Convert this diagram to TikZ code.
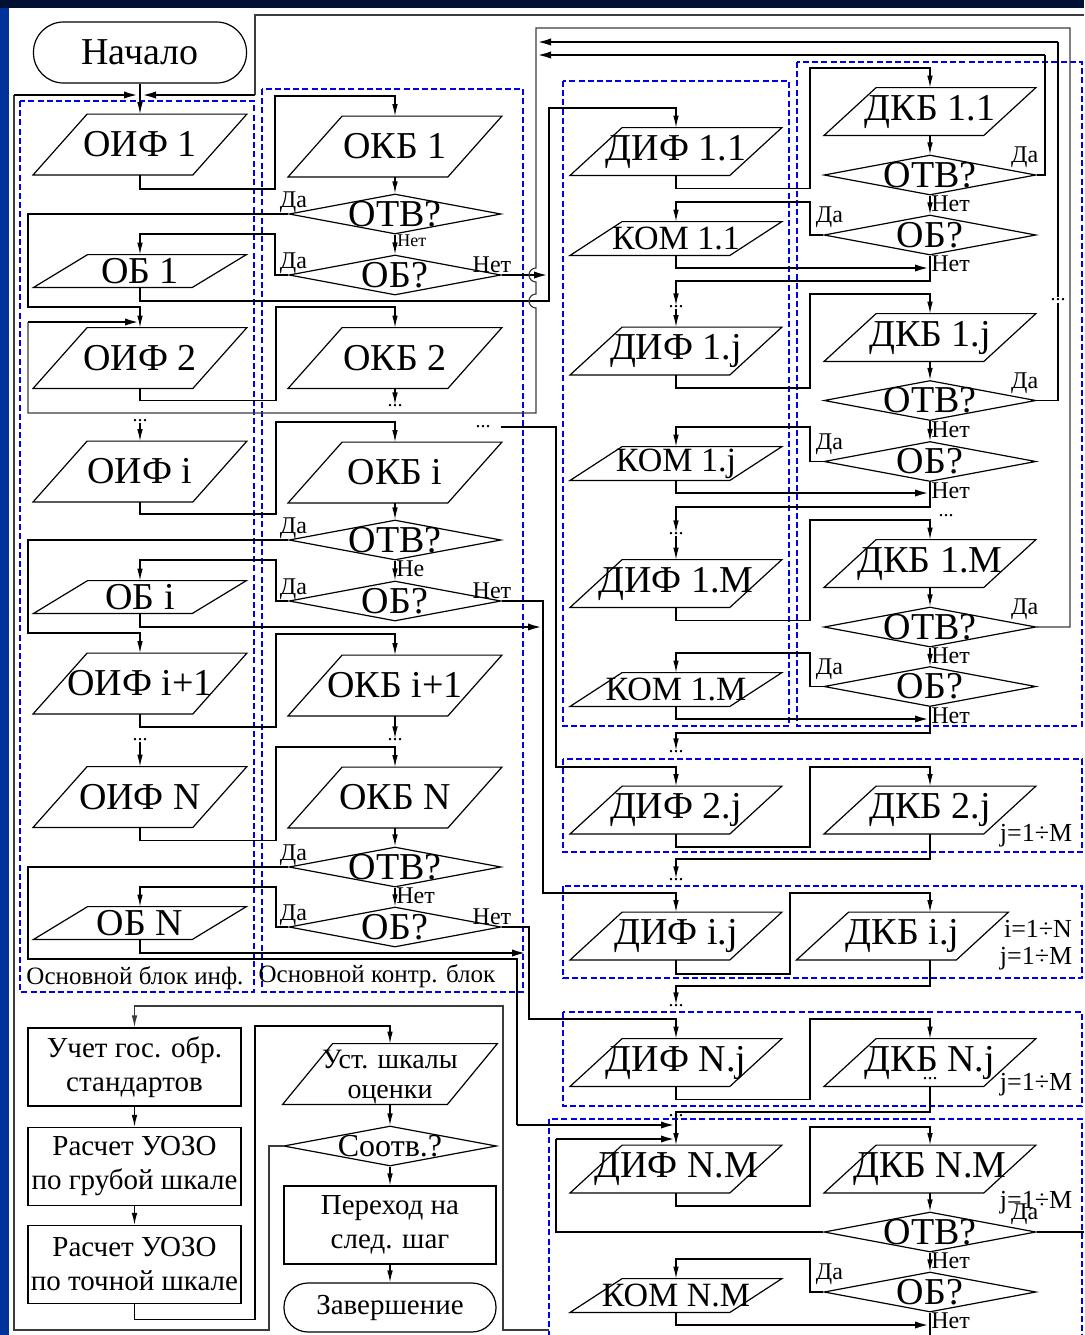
\documentclass[tikz,border=0pt]{standalone}
\usepackage{fontspec}
\setmainfont{Liberation Serif}
\usepackage{tikz}
\usetikzlibrary{shapes.geometric, arrows.meta}
\definecolor{SlideNavy}{RGB}{0, 17, 51}
\definecolor{SlideBlue}{RGB}{0, 51, 153}
\definecolor{GrpBlue}{RGB}{0, 0, 235}
\definecolor{FrameGray}{RGB}{60, 60, 60}

\newcommand{\fbig}{\fontsize{19}{21}\selectfont}
\newcommand{\fkom}{\fontsize{17}{19}\selectfont}
\newcommand{\fsoo}{\fontsize{16}{18}\selectfont}
\newcommand{\fmid}{\fontsize{14.5}{17}\selectfont}
\newcommand{\fust}{\fontsize{14}{15}\selectfont}
\newcommand{\fidx}{\fontsize{13}{14}\selectfont}
\newcommand{\fgrp}{\fontsize{12.5}{14}\selectfont}
\newcommand{\fyn}{\fontsize{12}{13}\selectfont}
\newcommand{\fsml}{\fontsize{9}{10}\selectfont}
\newcommand{\fdot}{\fontsize{10}{10}\selectfont}

\tikzset{
  ln/.style={line width=0.6pt},
  thk/.style={line width=1.3pt},
  frame/.style={line width=0.6pt, draw=FrameGray},
  arr/.style={-{Latex[length=6pt,width=2.8pt]}},
  arrT/.style={-{Latex[length=7.5pt,width=3.6pt]}},
  grp/.style={draw=GrpBlue, line width=1pt, dash pattern=on 3pt off 1.6pt},
  % parallelograms: the node is the bounding box, the outline is drawn below
  dat/.style={rectangle, inner sep=0pt},
  datL/.style={dat, minimum width=106.5pt, minimum height=30pt,
    label={[font=\fbig]center:#1}},
  datS/.style={dat, minimum width=106pt, minimum height=16pt,
    label={[font=\fbig]center:#1}},
  datR/.style={dat, minimum width=105.5pt, minimum height=23.5pt,
    label={[font=\fbig]center:#1}},
  datK/.style={dat, minimum width=105.5pt, minimum height=16.5pt,
    label={[font=\fkom]center:#1}},
  dec/.style={diamond, draw, ln, inner sep=0.5pt, minimum width=106pt,
    minimum height=20pt, label={[font=\fbig]center:#1}},
  proc/.style={rectangle, draw, ln, inner sep=0pt, minimum width=106.5pt,
    minimum height=39pt, align=center, font=\fmid},
  term/.style={rectangle, draw, ln, inner sep=0pt},
  yn/.style={font=\fyn, inner sep=0pt},
  dots/.style={font=\fdot, inner sep=0pt},
  idx/.style={font=\fidx, inner sep=0pt},
  grpl/.style={font=\fgrp, inner sep=0pt},
  yesL/.style={label={[yn,anchor=south,xshift=2.5pt,yshift=0.5pt]west:Да}},
  yesR/.style={label={[yn,anchor=south,xshift=3pt,yshift=3.5pt]west:Да}},
  yesE/.style={label={[yn,anchor=south east,xshift=1pt,yshift=3.5pt]east:Да}},
  noS/.style={label={[yn,anchor=north west,xshift=0.5pt]south:#1}},
  noE/.style={label={[yn,anchor=south east,xshift=5pt,yshift=1pt]east:Нет}},
}

\begin{document}
\begin{tikzpicture}[x=0.5pt, y=-0.5pt]
\useasboundingbox (0,0) rectangle (1084,1335);
\fill[white] (0,0) rectangle (1084,1335);
\fill[SlideNavy] (0,0) rectangle (1084,8);
\fill[SlideBlue] (0,8) rectangle (9,1335);

% group frames
\draw[grp] (20,101) rectangle (254,992);
\draw[grp] (262,89) rectangle (523,992);
\draw[grp] (563,81) rectangle (789,726);
\draw[grp] (797,62) rectangle (1082,726);
\draw[grp] (563,759) rectangle (1082,852);
\draw[grp] (563,886) rectangle (1082,978);
\draw[grp] (563,1012) rectangle (1082,1106);
\draw[grp] (549,1119) rectangle (1082,1345);
\node[grpl] (grpA) at (135,978) {Основной блок инф.};
\node[grpl] (grpB) at (377,976) {Основной контр. блок};

% information column
\node[term, rounded corners=15pt, minimum width=106.5pt, minimum height=30.5pt,
      font=\fbig] (start) at (140,52.5) {Начало};
\node[datL=ОИФ 1] (oif1) at (140,144.5) {};
\node[datS=ОБ 1] (ob1) at (140,271) {};
\node[datL=ОИФ 2] (oif2) at (140,358) {};
\node[datL=ОИФ i] (oifi) at (140,471.5) {};
\node[datS=ОБ i] (obi) at (140,597) {};
\node[datL=ОИФ i+1] (oifi1) at (140,683.5) {};
\node[datL=ОИФ N] (oifN) at (140,797) {};
\node[datS=ОБ N] (obN) at (140,923) {};

% control column
\node[datL=ОКБ 1] (okb1) at (395,146.5) {};
\node[dec=ОТВ?, yesL, label={[yn,font=\fsml,anchor=north west,xshift=1pt]south:Нет}]
      (otv1) at (395,214) {};
\node[dec=ОБ?, yesL, noE] (obq1) at (395,275) {};
\node[datL=ОКБ 2] (okb2) at (395,358) {};
\node[datL=ОКБ i] (okbi) at (395,472.5) {};
\node[dec=ОТВ?, yesL, noS=Не] (otvi) at (395,540) {};
\node[dec=ОБ?, yesL, noE] (obqi) at (395,601) {};
\node[datL=ОКБ i+1] (okbi1) at (395,685.5) {};
\node[datL=ОКБ N] (okbN) at (395,797.5) {};
\node[dec=ОТВ?, yesL, noS=Нет] (otvN) at (395,867) {};
\node[dec=ОБ?, yesL, noE] (obqN) at (395,927) {};

% first row of additional blocks
\node[datR=ДИФ 1.1] (dif11) at (676,151.5) {};
\node[datK=КОМ 1.1] (kom11) at (676,238.5) {};
\node[datR=ДИФ 1.j] (dif1j) at (676,351) {};
\node[datK=КОМ 1.j] (kom1j) at (676,463.5) {};
\node[datR=ДИФ 1.M] (dif1M) at (676,583.5) {};
\node[datK=КОМ 1.M] (kom1M) at (676,689.5) {};
\node[datR=ДКБ 1.1] (dkb11) at (930,111.5) {};
\node[dec=ОТВ?, yesE, noS=Нет] (otv11) at (930,175) {};
\node[dec=ОБ?, yesR, noS=Нет] (obq11) at (930,235) {};
\node[datR=ДКБ 1.j] (dkb1j) at (930,337.5) {};
\node[dec=ОТВ?, yesE, noS=Нет] (otv1j) at (930,400.5) {};
\node[dec=ОБ?, yesR, noS=Нет] (obq1j) at (930,461.5) {};
\node[datR=ДКБ 1.M] (dkb1M) at (930,563.5) {};
\node[dec=ОТВ?, yesE, noS=Нет] (otv1M) at (930,627) {};
\node[dec=ОБ?, yesR, noS=Нет] (obq1M) at (930,686.5) {};

% further rows
\node[datR=ДИФ 2.j] (dif2j) at (676,810) {};
\node[datR=ДКБ 2.j] (dkb2j) at (930,810) {};
\node[datR=ДИФ i.j] (difij) at (676,936) {};
\node[datR=ДКБ i.j] (dkbij) at (902.5,936) {};
\node[datR=ДИФ N.j] (difNj) at (676,1062.5) {};
\node[datR=ДКБ N.j] (dkbNj) at (930,1062.5) {};
\node[datR=ДИФ N.M] (difNM) at (676,1169) {};
\node[datR=ДКБ N.M] (dkbNM) at (930,1169) {};
\node[dec=ОТВ?, yesE, noS=Нет] (otvNM) at (930,1232) {};
\node[dec=ОБ?, yesR, noS=Нет] (obqNM) at (930,1292) {};
\node[datK=КОМ N.M] (komNM) at (676,1295.5) {};
\node[idx] (j2) at (1036,836) {j=1÷M};
\node[idx] (iij) at (1038,929) {i=1÷N};
\node[idx] (jij) at (1036,959) {j=1÷M};
\node[idx] (jNj) at (1036,1085) {j=1÷M};
\node[idx] (jNM) at (1036,1203) {j=1÷M};

% final stage
\node[proc] (uchet) at (134.5,1067) {Учет гос. обр.\\стандартов};
\node[proc] (rasch1) at (134.5,1166.5) {Расчет УОЗО\\по грубой шкале};
\node[proc] (rasch2) at (134.5,1264.5) {Расчет УОЗО\\по точной шкале};
\node[dat, minimum width=107pt, minimum height=30pt,
      label={[font=\fust,align=center,yshift=-1.5pt]center:Уст. шкалы\\оценки}]
      (ust) at (390,1074) {};
\node[diamond, draw, ln, inner sep=0.5pt, minimum width=106.5pt, minimum height=20pt,
      label={[font=\fsoo]center:Соотв.?}] (sootv) at (390,1146) {};
\node[proc, minimum width=106pt] (perehod) at (390,1225) {Переход на\\след. шаг};
\node[term, rounded corners=12pt, minimum width=106pt, minimum height=24.5pt,
      font=\fmid] (finish) at (390,1307.5) {Завершение};

% parallelogram outlines
\foreach \n/\e in {oif1/27, ob1/27, oif2/27, oifi/27, obi/27, oifi1/27, oifN/27,
    obN/27, okb1/27, okb2/27, okbi/27, okbi1/27, okbN/27, dif11/26, kom11/26,
    dif1j/26, kom1j/26, dif1M/26, kom1M/26, dkb11/26, dkb1j/26, dkb1M/26,
    dif2j/26, dkb2j/26, difij/26, dkbij/26, difNj/26, dkbNj/26, difNM/26,
    dkbNM/26, komNM/26, ust/25}
  \draw[ln] (\n.south west) -- ([xshift=-\e pt]\n.south east) -- (\n.north east)
    -- ([xshift=\e pt]\n.north west) -- cycle;

% dots
\node[dots] (dk1) at (395,406) {...};
\node[dots] (dl1) at (140,421) {...};
\node[dots] (dm) at (483,427) {...};
\node[dots] (dk2) at (395,740) {...};
\node[dots] (dl2) at (140,740) {...};
\node[dots] (dr1) at (676,307) {...};
\node[dots] (dr2) at (676,534) {...};
\node[dots] (dx1) at (946,516) {...};
\node[dots] (dr3) at (676,752) {...};
\node[dots] (dr4) at (676,880) {...};
\node[dots] (dr5) at (676,1006) {...};
\node[dots] (dx2) at (930,1079) {...};
\node[dots] (dr6) at (676,1116) {...};

% returns to the start
\draw[ln,arr] (start) -- (oif1);
\draw[frame] (sootv.west) -| (269,1330) -| (14,95);
\draw[thk,arrT] (14,95) -- (139,95);
\draw[frame] (1084,15) -| (255,95);
\draw[thk,arrT] (255,95) -- (141,95);

% information and control columns
\draw[ln,arr] (oif1.south) -- ++(0,14) -| (275,96) -| (okb1.north);
\draw[ln,arr] (okb1) -- (otv1);
\draw[ln,arr] (otv1.west) -| (28,307) -| (oif2.north);
\draw[ln,arr] (otv1) -- (obq1);
\draw[ln,arr] (obq1.west) -| (275,234) -| (ob1.north);
\draw[thk,arrT] (obq1.east) -- (549,275);
\draw[ln,arr] (ob1.south) |- (549,301) |- (676,108) -- (dif11.north);
\draw[frame] (otv1M.east) -| (1070,28) -| (536,268)
  arc[start angle=90, end angle=270, radius=3.5pt] -- (536,294)
  arc[start angle=90, end angle=270, radius=3.5pt] -- (536,413) -| (28,322);
\draw[thk,arrT] (28,322) -- (140,322);
\draw[ln,arr] (oif2.south) -- ++(0,12) -| (276,307) -| (okb2.north);
\draw[ln,arr] (okb2) -- (dk1);
\draw[ln,arr] (dl1) -- (oifi);
\draw[ln,arr] (oifi.south) -- ++(0,12) -| (276,422) -| (okbi.north);
\draw[ln,arr] ([xshift=5pt]dm.east) -| (556,767) -| (dif2j.north);
\draw[ln,arr] (okbi) -- (otvi);
\draw[ln,arr] (otvi.west) -| (28,633) -| (oifi1.north);
\draw[ln,arr] (otvi) -- (obqi);
\draw[ln,arr] (obqi.west) -| (276,560) -| (obi.north);
\draw[ln,arr] (obqi.east) -| (543,893) -| (difij.north);
\draw[thk,arrT] (obi.south) |- (543,627);
\draw[ln,arr] (oifi1.south) -- ++(0,13) -| (276,634) -| (okbi1.north);
\draw[ln,arr] (okbi1) -- (dk2);
\draw[ln,arr] (dl2) -- (oifN);
\draw[ln,arr] (oifN.south) -- ++(0,13) -| (276,747) -| (okbN.north);
\draw[ln,arr] (okbN) -- (otvN);
\draw[ln] (otvN.west) -| (28,959) -| (517,1125);
\draw[thk,arrT] (517,1125) -- (676,1125);
\draw[ln,arr] (otvN) -- (obqN);
\draw[ln,arr] (obqN.west) -| (276,887) -| (obN.north);
\draw[ln,arr] (obqN.east) -| (529,1019) -| (difNj.north);
\draw[thk,arrT] (obN.south) |- (527,953);

% first row of additional blocks
\draw[ln,arr] (dif11.south) -- ++(0,13) -| (810,68) -| (dkb11.north);
\draw[ln,arr] (dkb11) -- (otv11);
\draw[ln] (otv11.east) -| (1045,55);
\draw[thk,arrT] (1045,55) -- (536,55);
\draw[ln,arr] (otv11) -- (obq11);
\draw[ln,arr] (obq11.west) -| (810,202) -| (kom11.north);
\draw[thk,arrT] (kom11.south) |- (930,268);
\draw[ln,arr] (obq11.south) |- (676,281) -- (dr1);
\draw[ln,arr] (dr1) -- (dif1j);
\draw[ln,arr] (dif1j.south) -- ++(0,13) -| (810,294) -| (dkb1j.north);
\draw[ln,arr] (dkb1j) -- (otv1j);
\draw[ln] (otv1j.east) -| (1058,42);
\node[dots, fill=white, inner sep=1pt] (dq) at (1058,300) {...};
\draw[thk,arrT] (1058,42) -- (536,42);
\draw[ln,arr] (otv1j) -- (obq1j);
\draw[ln,arr] (obq1j.west) -| (810,427) -| (kom1j.north);
\draw[thk,arrT] (kom1j.south) |- (930,493);
\draw[ln,arr] (obq1j.south) |- (676,507) -- (dr2);
\draw[ln,arr] (dr2) -- (dif1M);
\draw[ln,arr] (dif1M.south) -- ++(0,13) -| (810,520) -| (dkb1M.north);
\draw[ln,arr] (dkb1M) -- (otv1M);
\draw[ln,arr] (otv1M) -- (obq1M);
\draw[ln,arr] (obq1M.west) -| (810,653) -| (kom1M.north);
\draw[thk,arrT] (kom1M.south) |- (930,719);
\draw[ln,arr] (obq1M.south) |- (676,733) -- (dr3);

% further rows
\draw[ln,arr] (dif2j.south) -- ++(0,13) -| (810,767) -| (dkb2j.north);
\draw[ln,arr] (dkb2j.south) |- (676,859) -- (dr4);
\draw[ln,arr] (difij.south) -- ++(0,14) -| (790,893) -| ([xshift=13.75pt]dkbij.north);
\draw[ln,arr] ([xshift=13.75pt]dkbij.south) |- (676,986) -- (dr5);
\draw[ln,arr] (difNj.south) -- ++(0,13) -| (810,1019) -| (dkbNj.north);
\draw[ln,arr] (dkbNj.south) |- (676,1112) -- (difNM.north);
\draw[ln] (otvNM.west) -| (556,1139);
\draw[thk,arrT] (556,1139) -- (676,1139);
\draw[ln] (otvNM.east) -- (1084,1232);
\draw[ln,arr] (difNM.south) -- ++(0,13) -| (810,1127) -| (dkbNM.north);
\draw[ln,arr] (dkbNM) -- (otvNM);
\draw[ln,arr] (otvNM) -- (obqNM);
\draw[ln,arr] (obqNM.west) -| (810,1259) -| (komNM.north);
\draw[thk,arrT] (komNM.south) |- (930,1325);
\draw[ln] (obqNM.south) -- (930,1335);

% final stage
\draw[frame,arr] (549,1330) -| (503,1006) -| (uchet.north);
\draw[ln,arr] (uchet) -- (rasch1);
\draw[ln,arr] (rasch1) -- (rasch2);
\draw[ln,arr] (rasch2.south) -- ++(0,15) -| (255,1026) -| (ust.north);
\draw[ln,arr] (ust) -- (sootv);
\draw[ln,arr] (sootv) -- (perehod);
\draw[ln,arr] (perehod) -- (finish);
\end{tikzpicture}
\end{document}
